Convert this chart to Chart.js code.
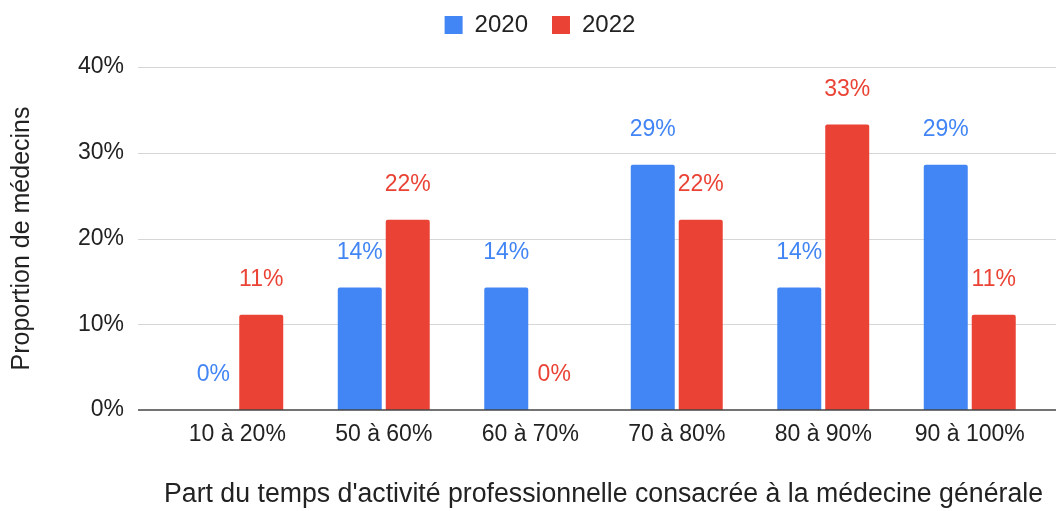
<!DOCTYPE html>
<html lang="fr">
<head>
<meta charset="utf-8">
<script src="https://cdn.jsdelivr.net/npm/chart.js@4.4.1/dist/chart.umd.min.js"></script>
<style>
    html, body { margin: 0; padding: 0; background: #fff; }
    #wrap { width: 1056px; height: 511px; }
</style>
</head>
<body>
<div id="wrap"><canvas id="chart" width="1056" height="511"></canvas></div>
<script>
'use strict';

// ── Data ──
const categories = ['10 à 20%', '50 à 60%', '60 à 70%', '70 à 80%', '80 à 90%', '90 à 100%'];
const values2020 = [0, 14.3, 14.3, 28.6, 14.3, 28.6];
const values2022 = [11.1, 22.2, 0, 22.2, 33.3, 11.1];
const yTicks     = [0, 10, 20, 30, 40];

const BLUE = '#4285F4';
const RED  = '#EA4335';
const FONT = 'Arial, "Liberation Sans", sans-serif';

/* ── legend: keep it high, chart area starts lower ── */
const legendFit = {
    id: 'legendFit',
    beforeInit(chart) {
        const orig = chart.legend.fit;
        chart.legend.fit = function () { orig.call(this); this.height = 78; };
    }
};

/* ── horizontal grid, wider than the bar area ── */
const wideGrid = {
    id: 'wideGrid',
    beforeDatasetsDraw(chart) {
        const { ctx, chartArea, scales: { y } } = chart;
        const x0 = chartArea.left - 26, x1 = chart.width;
        ctx.save();
        ctx.lineWidth = 1;
        ctx.strokeStyle = '#d6d6d6';
        yTicks.slice(1).forEach(v => {
            const py = Math.round(y.getPixelForValue(v)) + 0.5;
            ctx.beginPath(); ctx.moveTo(x0, py); ctx.lineTo(x1, py); ctx.stroke();
        });
        ctx.restore();
    },
    afterDatasetsDraw(chart) {
        const { ctx, chartArea, scales: { y } } = chart;
        const py = y.getPixelForValue(0);
        ctx.save();
        ctx.lineWidth = 1.5;
        ctx.strokeStyle = '#444';
        ctx.beginPath(); ctx.moveTo(chartArea.left - 26, py); ctx.lineTo(chart.width, py); ctx.stroke();
        ctx.restore();
    }
};

/* ── value labels above bars ── */
const barLabels = {
    id: 'barLabels',
    afterDatasetsDraw(chart) {
        const { ctx } = chart;
        ctx.save();
        ctx.font = `23px ${FONT}`;
        ctx.textAlign = 'center';
        ctx.textBaseline = 'middle';
        chart.data.datasets.forEach((ds, i) => {
            ctx.fillStyle = ds.backgroundColor;
            chart.getDatasetMeta(i).data.forEach((bar, j) => {
                ctx.fillText(Math.round(ds.data[j]) + '%', bar.x, bar.y - 35);
            });
        });
        ctx.restore();
    }
};

new Chart(document.getElementById('chart'), {
    type: 'bar',
    data: {
        labels: categories,
        datasets: [
            { label: '2020', data: values2020, backgroundColor: BLUE, borderWidth: 0, borderRadius: 2 },
            { label: '2022', data: values2022, backgroundColor: RED,  borderWidth: 0, borderRadius: 2 }
        ]
    },
    options: {
        responsive: false,
        animation: false,
        devicePixelRatio: 1,
        categoryPercentage: 0.655,
        barPercentage: 0.917,
        layout: { padding: { top: -11, left: 37, right: 13, bottom: 0 } },
        plugins: {
            legend: {
                position: 'top',
                labels: {
                    boxWidth: 18, boxHeight: 18, padding: 24,
                    color: '#222', font: { family: FONT, size: 24 }
                }
            },
            tooltip: { enabled: false }
        },
        scales: {
            x: {
                grid: { display: false, drawTicks: false },
                border: { display: false },
                ticks: { color: '#222', padding: 11, font: { family: FONT, size: 23 } },
                title: {
                    display: true,
                    text: "Part du temps d'activité professionnelle consacrée à la médecine générale",
                    color: '#222', font: { family: FONT, size: 27 },
                    padding: { top: 0, bottom: 0 }
                },
                afterFit(scale) { scale.height = 101; }
            },
            y: {
                min: 0, max: 40,
                grid: { display: false, drawTicks: false },
                border: { display: false },
                ticks: {
                    stepSize: 10, padding: 40, color: '#222',
                    font: { family: FONT, size: 23 },
                    callback: v => v + '%'
                },
                title: {
                    display: true, text: 'Proportion de médecins',
                    color: '#222', font: { family: FONT, size: 25 },
                    padding: { top: -30, bottom: 0 }
                },
                afterFit(scale) { scale.width = 127; }
            }
        }
    },
    plugins: [legendFit, wideGrid, barLabels]
});
</script>
</body>
</html>
